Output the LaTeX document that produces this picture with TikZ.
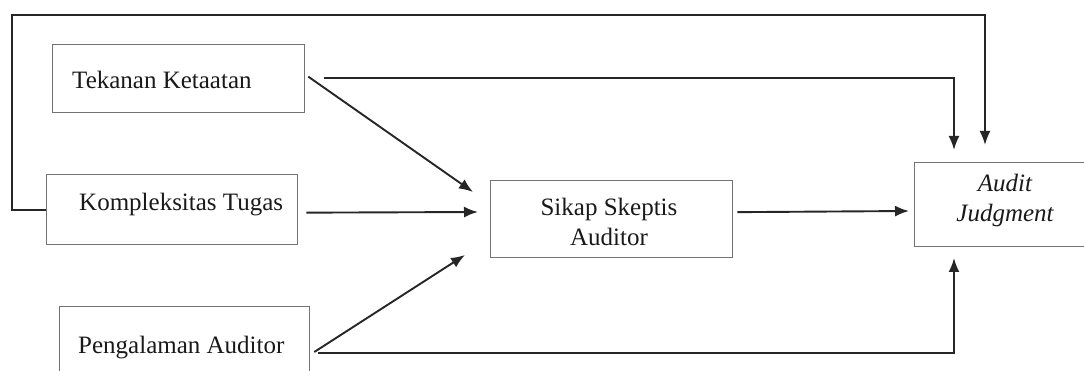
\documentclass[tikz,border=0pt]{standalone}
\usepackage{fontspec}
\setmainfont{Liberation Serif}
\usetikzlibrary{arrows.meta,calc}
\begin{document}
\begin{tikzpicture}[x=1pt,y=-1pt,
  box/.style={draw=black!55, line width=1.3pt, rectangle, inner sep=0pt},
  lbl/.style={font=\fontsize{25}{30}\selectfont, inner sep=0pt, text=black!90},
  conn/.style={draw=black!85, line width=1.9pt},
  arr/.style={conn, -{Latex[length=14pt,width=11pt]}}]
\useasboundingbox (0,0) rectangle (1084,371);
\clip (0,0) rectangle (1084,371);
% boxes
\node[box, minimum width=252pt, minimum height=68pt, anchor=north west] (tk) at (52,44) {};
\node[box, minimum width=251pt, minimum height=70pt, anchor=north west] (kt) at (46,174) {};
\node[box, minimum width=250pt, minimum height=114pt, anchor=north west] (pa) at (59,306) {};
\node[box, minimum width=242pt, minimum height=77pt, anchor=north west] (sk) at (490,180) {};
\node[box, minimum width=196pt, minimum height=84pt, anchor=north west] (aj) at (914,162) {};
% labels
\node[lbl, anchor=base west] (tkt) at (72,89) {Tekanan Ketaatan};
\node[lbl, anchor=base west] (ktt) at (79,211) {Kompleksitas Tugas};
\node[lbl, anchor=base west] (pat) at (78,353) {Pengalaman Auditor};
\node[lbl, anchor=base] (skt1) at (609,216) {Sikap Skeptis};
\node[lbl, anchor=base] (skt2) at (609,246) {Auditor};
\node[lbl, anchor=base, font=\fontsize{25}{30}\selectfont\itshape] (ajt1) at (1005,192) {Audit};
\node[lbl, anchor=base, font=\fontsize{25}{30}\selectfont\itshape] (ajt2) at (1005,222) {Judgment};
% free ends
\coordinate (c1) at (12,15);
\coordinate (t1) at (985,145);
\coordinate (t2) at (954,150);
\coordinate (s1) at (473,192);
\coordinate (s2) at (478,212);
\coordinate (s3) at (465,255);
\coordinate (a1) at (909,211);
\coordinate (b1) at (954,258);
% connectors
\draw[arr] (kt.west) -| (c1) -| (t1);
\draw[arr] ($(tk.east)+(19,-1)$) -| (t2);
\draw[arr] ($(tk.east)+(3,-2)$) -- (s1);
\draw[arr] ($(kt.east)+(8,3)$) -- (s2);
\draw[arr] ($(pa.north east)+(4,46)$) -- (s3);
\draw[arr] ($(pa.north east)+(8,47)$) -| (b1);
\draw[arr] ($(sk.east)+(4,-7)$) -- (a1);
\end{tikzpicture}
\end{document}
